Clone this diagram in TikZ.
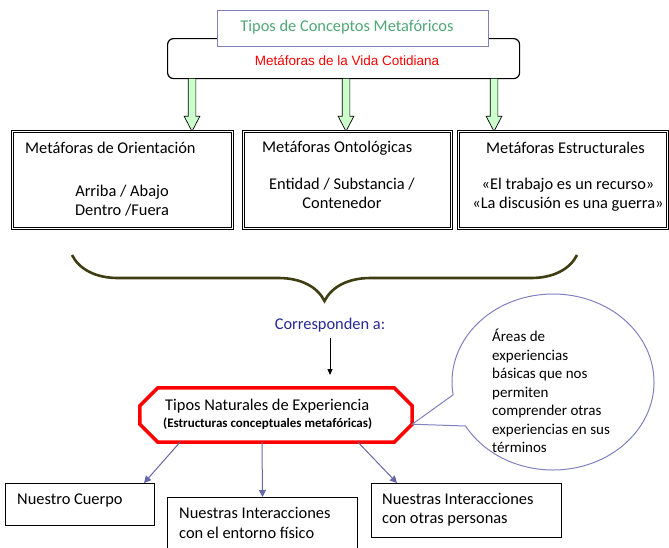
\documentclass[tikz,border=0pt]{standalone}
\usepackage{fontspec}
\setmainfont{Carlito}
\newfontfamily\arialfont{Liberation Sans}
\usetikzlibrary{shapes.arrows,decorations.pathreplacing,arrows.meta}

\definecolor{titlegreen}{RGB}{80,168,118}
\definecolor{framepurple}{RGB}{128,128,192}
\definecolor{arrowgreen}{RGB}{204,255,204}
\definecolor{braceolive}{RGB}{62,62,18}
\definecolor{darkblue}{RGB}{40,40,150}
\definecolor{slateblue}{RGB}{102,102,168}

\tikzstyle{txt}=[font=\fontsize{16.4}{19.5}\selectfont,inner sep=0pt]
\tikzstyle{dbox}=[draw,double,line width=.9pt,double distance=1.2pt,anchor=north west,minimum height=97pt]
\tikzstyle{plainbox}=[draw,line width=1pt,anchor=north west]
\tikzstyle{greenarrow}=[single arrow,draw,fill=arrowgreen,rotate=-90,minimum height=53pt,minimum width=15pt,single arrow head extend=4pt,single arrow tip angle=55,inner sep=3.5pt,line width=.7pt]
\tikzstyle{bluearrow}=[draw=slateblue,line width=1pt,-{Triangle[length=7pt,width=7pt]}]

\begin{document}
\begin{tikzpicture}[x=1pt,y=-1pt]
\useasboundingbox (0,0) rectangle (669,547);
\clip (0,0) rectangle (669,547);

%header
\node[draw,rounded corners=6pt,line width=1.2pt,minimum width=352pt,minimum height=40pt,anchor=north west] (vida) at (167,38) {};
\node[font=\arialfont\fontsize{13.5}{15}\selectfont,text=red,inner sep=0pt] (vidatxt) at (347,61) {Metáforas de la Vida Cotidiana};
\node[draw=framepurple,fill=white,line width=1pt,minimum width=271pt,minimum height=36pt,anchor=north west] (titulo) at (217,10) {};
\node[txt,text=titlegreen] (titulotxt) at (347,27) {Tipos de Conceptos Metafóricos};

%green arrows
\foreach \x/\n in {192/1,346/2,494/3}
  \node[greenarrow,anchor=tail] (green\n) at (\x,78) {};

%boxes
\node[dbox,minimum width=220pt] (orient) at (12,131) {};
\node[dbox,minimum width=208pt] (onto) at (243,131) {};
\node[dbox,minimum width=209pt] (estruc) at (458,131) {};

\node[txt,anchor=west] (orienthead) at (25,148) {Metáforas de Orientación};
\node[txt,align=center] (orientsub) at (122,200.5) {Arriba / Abajo\\Dentro /Fuera};
\node[txt,anchor=west] (ontohead) at (262,148) {Metáforas Ontológicas};
\node[txt,align=center] (ontosub) at (342,193.5) {Entidad / Substancia /\\Contenedor};
\node[txt,anchor=west] (estruchead) at (486,148) {Metáforas Estructurales};
\node[txt,align=center] (estrucsub) at (568,194.5) {«El trabajo es un recurso»\\«La discusión es una guerra»};

%brace
\draw[braceolive,line width=2.6pt,decorate,decoration={brace,amplitude=46pt,mirror}] (72,255) -- (577,255);

\node[txt,text=darkblue] (corr) at (330,325) {Corresponden a:};
\coordinate (corrend) at (330,375);
\draw[line width=1pt,-{Triangle[length=6pt,width=5pt]}] ([yshift=-6pt]corr.south) -- (corrend);

%experience
\node[minimum width=272pt,minimum height=54pt,inner sep=0pt] (tipos) at (276,415) {};
\draw[red,line width=3.5pt] ([xshift=18pt]tipos.north west) -- ([xshift=-18pt]tipos.north east)
  -- ([yshift=-18pt]tipos.north east) -- ([yshift=18pt]tipos.south east)
  -- ([xshift=-18pt]tipos.south east) -- ([xshift=18pt]tipos.south west)
  -- ([yshift=18pt]tipos.south west) -- ([yshift=-18pt]tipos.north west) -- cycle;
\node[txt,anchor=west] (tiposhead) at (165,406) {Tipos Naturales de Experiencia};
\node[font=\fontsize{13}{15}\selectfont\bfseries,inner sep=0pt,anchor=west] (tipossub) at (163,424) {(Estructuras conceptuales metafóricas)};

%callout
\coordinate (areasc) at (553,382);
\draw[framepurple,line width=1pt] ([yshift=18pt]tipos.south east) -- ([shift={(171.6:101 and 88)}]areasc)
  arc[start angle=171.6,end angle=510,x radius=101,y radius=88] -- cycle;
\node[font=\fontsize{15}{18.5}\selectfont,inner sep=0pt,anchor=west,align=left] (areastxt) at (492,391) {Áreas de\\experiencias\\básicas que nos\\permiten\\comprender otras\\experiencias en sus\\términos};

%bottom boxes
\node[plainbox,minimum width=149pt,minimum height=42pt] (cuerpo) at (5,483) {};
\node[txt,anchor=west] (cuerpotxt) at (17,500) {Nuestro Cuerpo};
\node[plainbox,minimum width=190pt,minimum height=60pt] (fisico) at (167,497) {};
\node[txt,anchor=west,align=left] (fisicotxt) at (179,523) {Nuestras Interacciones\\con el entorno físico};
\node[plainbox,minimum width=190pt,minimum height=54pt] (otras) at (371,483) {};
\node[txt,anchor=west,align=left] (otrastxt) at (382,509.5) {Nuestras Interacciones\\con otras personas};

%arrows
\draw[bluearrow] ([xshift=-96pt]tipos.south) -- ([xshift=-11pt]cuerpo.north east);
\draw[bluearrow] ([xshift=-14pt]tipos.south) -- (fisico.north);
\draw[bluearrow] ([xshift=82pt]tipos.south) -- ([xshift=26pt]otras.north west);

\end{tikzpicture}
\end{document}
